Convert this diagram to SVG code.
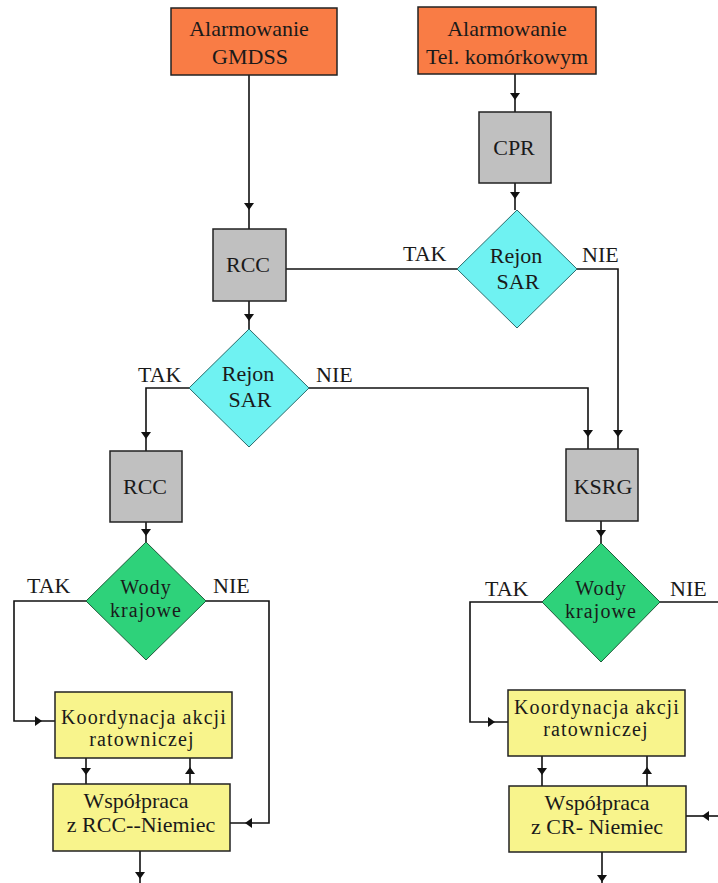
<svg xmlns="http://www.w3.org/2000/svg" xmlns:xlink="http://www.w3.org/1999/xlink" width="718" height="883" viewBox="0 0 718 883">
<style>
  .box { stroke: #222; stroke-width: 1.5; }
  .orange { fill: #F97C45; }
  .gray { fill: #C0C0C0; }
  .cyan { fill: #6FF2F2; stroke: #2a6a6a; stroke-width: 1; }
  .green { fill: #2ED27A; stroke: #1f5a3a; stroke-width: 1; }
  .yellow { fill: #F8F48C; }
  text { font-family: "Liberation Serif", "Times New Roman", serif; font-size: 22px; fill: #1a1a1a; text-anchor: middle; }
  .lbl { text-anchor: start; }
  .tight { font-size: 20px; letter-spacing: 1.1px; }
  .conn path { fill: none; stroke: #111; stroke-width: 1.6; }
  .ah { fill: #111; }
</style>
<defs>
  <path id="ah" class="ah" d="M-5,-7 L5,-7 L0,0 Z"/>
</defs>
<rect width="718" height="883" fill="#ffffff"/>

<g id="connectors" class="conn">
  <path d="M249,75 V229"/>
  <path d="M515,74 V112"/>
  <path d="M515,183 V210"/>
  <path d="M286,269 H457"/>
  <path d="M577,269 H618 V449"/>
  <path d="M249,301 V329"/>
  <path d="M189,388 H146 V451"/>
  <path d="M309,388 H588 V449"/>
  <path d="M146,522 V542"/>
  <path d="M601,521 V543"/>
  <path d="M86,601 H14 V721 H55"/>
  <path d="M86,758 V784"/>
  <path d="M190,784 V758"/>
  <path d="M206,601 H269 V823 H230"/>
  <path d="M140,851 V883"/>
  <path d="M542,602 H470 V722 H508"/>
  <path d="M542,756 V786"/>
  <path d="M647,786 V756"/>
  <path d="M660,602 H718"/>
  <path d="M718,816 H686"/>
  <path d="M602,852 V883"/>
  <use xlink:href="#ah" href="#ah" transform="translate(249,210)"/>
  <use xlink:href="#ah" href="#ah" transform="translate(515,100)"/>
  <use xlink:href="#ah" href="#ah" transform="translate(515,199)"/>
  <use xlink:href="#ah" href="#ah" transform="translate(249,321)"/>
  <use xlink:href="#ah" href="#ah" transform="translate(146,439)"/>
  <use xlink:href="#ah" href="#ah" transform="translate(588,437)"/>
  <use xlink:href="#ah" href="#ah" transform="translate(618,437)"/>
  <use xlink:href="#ah" href="#ah" transform="translate(146,536)"/>
  <use xlink:href="#ah" href="#ah" transform="translate(601,537)"/>
  <use xlink:href="#ah" href="#ah" transform="translate(42,721) rotate(-90)"/>
  <use xlink:href="#ah" href="#ah" transform="translate(86,775)"/>
  <use xlink:href="#ah" href="#ah" transform="translate(190,767) rotate(180)"/>
  <use xlink:href="#ah" href="#ah" transform="translate(245,823) rotate(90)"/>
  <use xlink:href="#ah" href="#ah" transform="translate(140,879)"/>
  <use xlink:href="#ah" href="#ah" transform="translate(495,722) rotate(-90)"/>
  <use xlink:href="#ah" href="#ah" transform="translate(542,775)"/>
  <use xlink:href="#ah" href="#ah" transform="translate(647,767) rotate(180)"/>
  <use xlink:href="#ah" href="#ah" transform="translate(702,816) rotate(90)"/>
  <use xlink:href="#ah" href="#ah" transform="translate(602,882)"/>
</g>

<g id="labels">
  <text class="lbl" x="403" y="261">TAK</text>
  <text class="lbl" x="582" y="262">NIE</text>
  <text class="lbl" x="138" y="382">TAK</text>
  <text class="lbl" x="316" y="382">NIE</text>
  <text class="lbl" x="27" y="593">TAK</text>
  <text class="lbl" x="213" y="593">NIE</text>
  <text class="lbl" x="485" y="596">TAK</text>
  <text class="lbl" x="670" y="596">NIE</text>
</g>

<g id="alarm-gmdss">
  <rect class="box orange" x="171" y="8" width="166" height="67"/>
  <text x="249" y="36">Alarmowanie</text>
  <text x="250" y="64">GMDSS</text>
</g>
<g id="alarm-tel">
  <rect class="box orange" x="418" y="7" width="178" height="67"/>
  <text x="507" y="36">Alarmowanie</text>
  <text x="507" y="64">Tel. komórkowym</text>
</g>
<g id="cpr">
  <rect class="box gray" x="479" y="112" width="72" height="71"/>
  <text x="514" y="155">CPR</text>
</g>
<g id="rcc-top">
  <rect class="box gray" x="213" y="229" width="73" height="72"/>
  <text x="248" y="272">RCC</text>
</g>
<g id="rejon-sar-1">
  <polygon class="cyan" points="517,210 577,269 517,328 457,269"/>
  <text x="516" y="263">Rejon</text>
  <text x="518" y="289">SAR</text>
</g>
<g id="rejon-sar-2">
  <polygon class="cyan" points="249,329 309,388 249,447 189,388"/>
  <text x="248" y="381">Rejon</text>
  <text x="250" y="407">SAR</text>
</g>
<g id="rcc-left">
  <rect class="box gray" x="110" y="451" width="72" height="71"/>
  <text x="145" y="494">RCC</text>
</g>
<g id="ksrg">
  <rect class="box gray" x="566" y="449" width="72" height="72"/>
  <text x="603" y="494">KSRG</text>
</g>
<g id="wody-left">
  <polygon class="green" points="146,542 206,601 146,660 86,601"/>
  <text class="tight" x="146" y="594">Wody</text>
  <text class="tight" x="146" y="617">krajowe</text>
</g>
<g id="wody-right">
  <polygon class="green" points="601,543 660,602 601,662 542,602"/>
  <text class="tight" x="601" y="595">Wody</text>
  <text class="tight" x="601" y="618">krajowe</text>
</g>
<g id="koord-left">
  <rect class="box yellow" x="55" y="692" width="177" height="66"/>
  <text class="tight" x="144" y="724">Koordynacja akcji</text>
  <text class="tight" x="142" y="746">ratowniczej</text>
</g>
<g id="wsp-left">
  <rect class="box yellow" x="53" y="784" width="177" height="67"/>
  <text x="136" y="808">Współpraca</text>
  <text x="141" y="832">z RCC--Niemiec</text>
</g>
<g id="koord-right">
  <rect class="box yellow" x="508" y="690" width="177" height="66"/>
  <text class="tight" x="597" y="714">Koordynacja akcji</text>
  <text class="tight" x="596" y="736">ratowniczej</text>
</g>
<g id="wsp-right">
  <rect class="box yellow" x="509" y="786" width="177" height="66"/>
  <text x="597" y="810">Współpraca</text>
  <text x="597" y="834">z CR- Niemiec</text>
</g>
</svg>
